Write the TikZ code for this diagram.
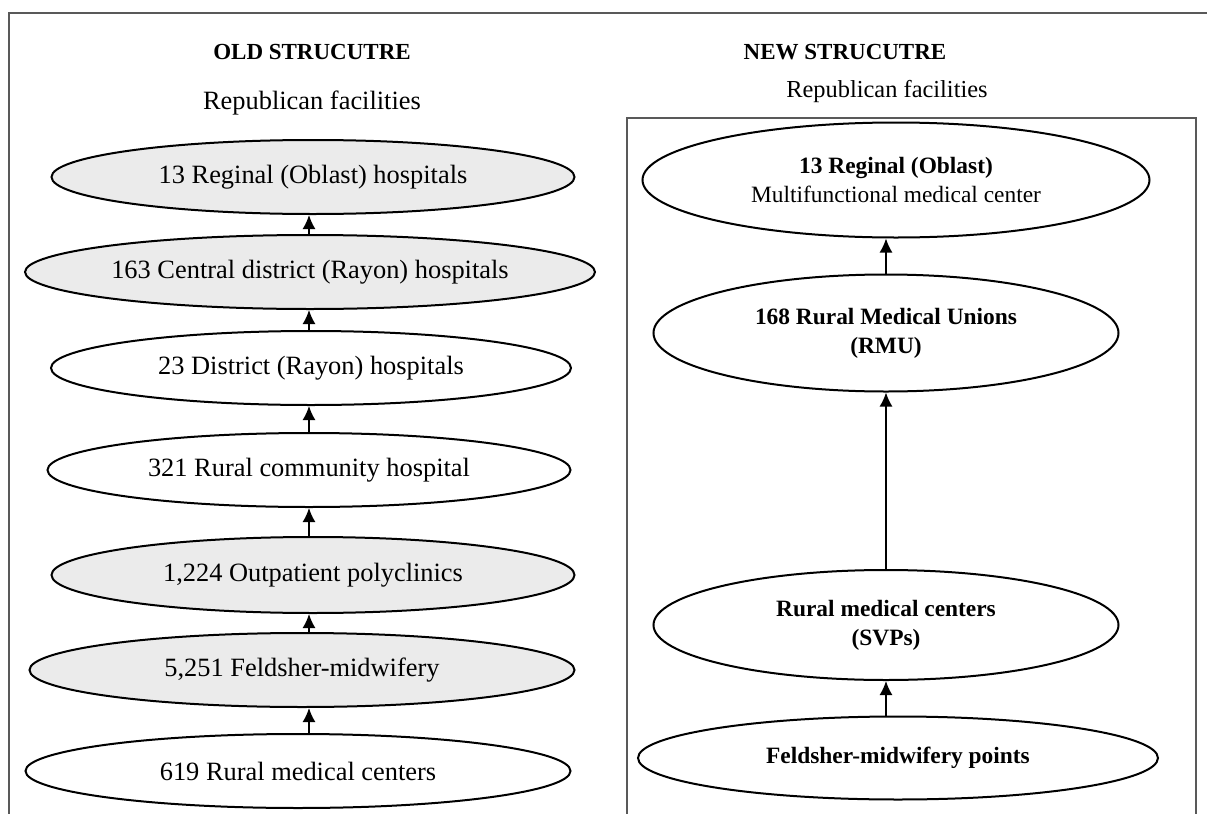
\documentclass[tikz,border=0pt]{standalone}
\usepackage{fontspec}
\setmainfont{Liberation Serif}
\usetikzlibrary{shapes.geometric,arrows.meta}
\definecolor{framegray}{gray}{0.35}
\definecolor{lightfill}{gray}{0.92}
\tikzset{
  level/.style={ellipse, draw=black, line width=1pt, inner sep=0pt,
    align=center, font=\fontsize{11.7}{14.5}\selectfont},
  oldlevel/.style={level, font=\fontsize{13.2}{15}\selectfont},
  shaded/.style={oldlevel, fill=lightfill},
  plain/.style={oldlevel, fill=white},
  newlevel/.style={level, fill=white},
  newbold/.style={newlevel, font=\fontsize{11.7}{14.5}\selectfont\bfseries},
  up/.style={line width=0.8pt, -{Latex[length=7pt,width=6.5pt]}},
  heading/.style={font=\fontsize{11.5}{14}\selectfont\bfseries},
  subheading/.style={font=\fontsize{13.2}{15}\selectfont},
  frameline/.style={draw=framegray, line width=0.8pt}
}
\begin{document}
\begin{tikzpicture}[x=0.5pt,y=-0.5pt]
\useasboundingbox (0,0) rectangle (1207,814);

% outer frame (top and left sides only)
\coordinate (ftl) at (9,13);
\coordinate (ftr) at (1207,13);
\coordinate (fbl) at (9,814);
\draw[frameline] (fbl) -- (ftl) -- (ftr);

% box around the new structure
\coordinate (bbl) at (627,814);
\coordinate (btl) at (627,118);
\coordinate (btr) at (1196,118);
\coordinate (bbr) at (1196,814);
\draw[frameline] (bbl) -- (btl) -- (btr) -- (bbr);

% headings
\node[heading] (oldt) at (312,52) {OLD STRUCUTRE};
\node[subheading] (oldr) at (312,103) {Republican facilities};
\node[heading] (newt) at (845,52) {NEW STRUCUTRE};
\node[subheading, font=\fontsize{12.2}{14}\selectfont] (newr) at (887,92) {Republican facilities};

% old structure
\node[shaded, minimum width=523pt*0.5, minimum height=74pt*0.5] (o1) at (313,177) {13 Reginal (Oblast) hospitals};
\node[shaded, minimum width=570pt*0.5, minimum height=74pt*0.5] (o2) at (310,272) {163 Central district (Rayon) hospitals};
\node[plain,  minimum width=520pt*0.5, minimum height=74pt*0.5] (o3) at (311,368) {23 District (Rayon) hospitals};
\node[plain,  minimum width=523pt*0.5, minimum height=74pt*0.5] (o4) at (309,470) {321 Rural community hospital};
\node[shaded, minimum width=523pt*0.5, minimum height=76pt*0.5] (o5) at (313,575) {1,224 Outpatient polyclinics};
\node[shaded, minimum width=545pt*0.5, minimum height=74pt*0.5] (o6) at (302,670) {5,251 Feldsher-midwifery};
\node[plain,  minimum width=545pt*0.5, minimum height=74pt*0.5] (o7) at (298,771) {619 Rural medical centers};

\foreach \lo/\hi in {o2/o1,o3/o2,o4/o3,o5/o4,o6/o5,o7/o6}
  \draw[up] (\lo.north -| 309,0) -- (\hi.south -| 309,0);

% new structure
\node[newlevel, minimum width=507pt*0.5, minimum height=115pt*0.5] (n1) at (896,180)
  {\textbf{13 Reginal (Oblast)}\\Multifunctional medical center};
\node[newbold, minimum width=465pt*0.5, minimum height=117pt*0.5] (n2) at (886,333)
  {168 Rural Medical Unions\\(RMU)};
\node[newbold, minimum width=465pt*0.5, minimum height=110pt*0.5] (n3) at (886,625)
  {Rural medical centers\\(SVPs)};
\node[newbold, minimum width=520pt*0.5, minimum height=83pt*0.5] (n4) at (898,758)
  {Feldsher-midwifery points};

\draw[up] (n2.north -| 886,0) -- (n1.south -| 886,0);
\draw[up] (n3.north -| 886,0) -- (n2.south -| 886,0);
\draw[up] (n4.north -| 886,0) -- (n3.south -| 886,0);
\end{tikzpicture}
\end{document}
